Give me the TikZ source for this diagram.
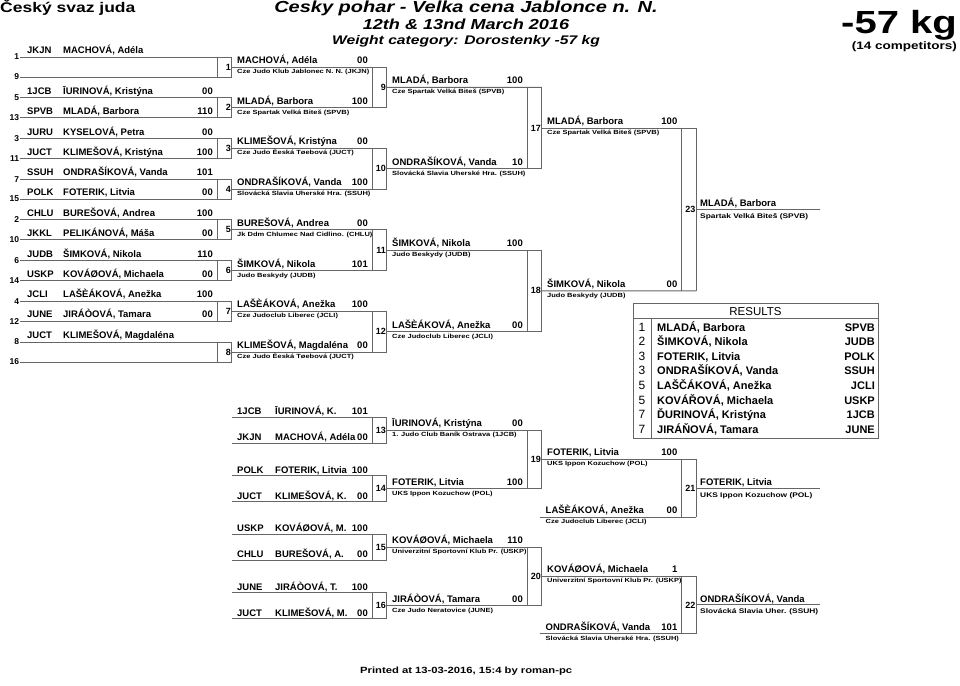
\documentclass[tikz,border=0pt]{standalone}
\usepackage{fontspec}
\setmainfont{Liberation Sans}
\newfontfamily\widefont[FakeStretch=1.25]{Liberation Sans}
\usetikzlibrary{calc}

\tikzset{
  bline/.style={draw=black!60, line width=0.8pt},
  tline/.style={draw=black!60, line width=0.8pt},
  pname/.style={font=\bfseries\fontsize{9.5}{11}\selectfont, inner sep=0pt},
  pclub/.style={font=\widefont\bfseries\fontsize{6}{7}\selectfont, inner sep=0pt},
  fclub/.style={font=\widefont\bfseries\fontsize{6.7}{8}\selectfont, inner sep=0pt},
  boutno/.style={font=\bfseries\fontsize{9}{10}\selectfont, inner sep=0.4pt},
  seedno/.style={font=\bfseries\fontsize{8.5}{10}\selectfont, inner sep=0.6pt},
  resrank/.style={font=\fontsize{12}{14}\selectfont, inner sep=0pt},
  resname/.style={font=\bfseries\fontsize{11}{13}\selectfont, inner sep=0pt},
}

% match box: id, x of left side, top, bottom
\newcommand{\matchbox}[4]{%
  \coordinate (m#1-tl) at (#2,#3);
  \coordinate (m#1-tr) at (#2+14.5,#3);
  \coordinate (m#1-bl) at (#2,#4);
  \coordinate (m#1-br) at (#2+14.5,#4);
  \coordinate (m#1-out) at (#2+14.5,{(#3+#4)/2});
  \draw[bline] (m#1-tl) -- (m#1-bl);
  \draw[bline] (m#1-tr) -- (m#1-br);
  \node[boutno, anchor=east] (n#1) at (m#1-out) {#1};
}
% first round lane: id, seed, y, code, name, score, box corner
\newcommand{\seedlane}[7]{%
  \coordinate (#1-a) at (20,#3);
  \draw[bline] (#1-a) -- (#7);
  \node[seedno, anchor=east] (#1-k) at (#1-a) {#2};
  \node[pname, anchor=base west] (#1-c) at ($(#1-a)+(7,-3.3)$) {#4};
  \node[pname, anchor=base west] (#1-n) at ($(#1-a)+(43,-3.3)$) {#5};
  \node[pname, anchor=base east] (#1-s) at ($(#7)+(-18.5,-3.3)$) {#6};
}
% repechage lane: id, y, code, name, score, box corner
\newcommand{\replane}[6]{%
  \coordinate (#1-a) at (232,#2);
  \draw[bline] (#1-a) -- (#6);
  \node[pname, anchor=base west] (#1-c) at ($(#1-a)+(5,-2.5)$) {#3};
  \node[pname, anchor=base west] (#1-n) at ($(#1-a)+(43,-2.5)$) {#4};
  \node[pname, anchor=base east] (#1-s) at ($(#6)+(-18.5,-2.5)$) {#5};
}
% winner lane: id, from, to, name, score, club
\newcommand{\winlane}[6]{%
  \draw[bline] (#2) -- (#3);
  \node[pname, anchor=base west] (#1-n) at ($(#2)+(5.5,-3.5)$) {#4};
  \node[pname, anchor=base east] (#1-s) at ($(#3)+(-18.5,-3.5)$) {#5};
  \node[pclub, anchor=base west] (#1-c) at ($(#2)+(5.5,6.5)$) {#6};
}
% last lane: id, from, name, club
\newcommand{\finallane}[4]{%
  \coordinate (#1-e) at ($(#2)+(124,0)$);
  \draw[bline] (#2) -- (#1-e);
  \node[pname, anchor=base west] (#1-n) at ($(#2)+(4,-2.5)$) {#3};
  \node[fclub, anchor=base west] (#1-c) at ($(#2)+(4,9)$) {#4};
}

\begin{document}
\begin{tikzpicture}[x=1pt,y=-1pt]
\useasboundingbox (0,0) rectangle (960,685);

% Headings
\node[inner sep=0pt, anchor=base west, font=\widefont\bfseries\fontsize{14}{16}\selectfont] (union) at (0,13) {Český svaz juda};
\node[inner sep=0pt, anchor=base, font=\widefont\bfseries\itshape\fontsize{16}{18}\selectfont] (event) at (466,12.7) {Cesky pohar - Velka cena Jablonce n. N.};
\node[inner sep=0pt, anchor=base, font=\widefont\bfseries\itshape\fontsize{14.5}{16}\selectfont] (dates) at (466,29.3) {12th \& 13nd March 2016};
\node[inner sep=0pt, anchor=base, font=\widefont\bfseries\itshape\fontsize{12.5}{14}\selectfont] (category) at (466,45) {Weight category: Dorostenky -57 kg};
\node[inner sep=0pt, anchor=base east, font=\widefont\bfseries\fontsize{32}{34}\selectfont] (weight) at (957,33.3) {-57 kg};
\node[inner sep=0pt, anchor=base east, font=\widefont\bfseries\fontsize{10.8}{12}\selectfont] (count) at (957,50) {(14 competitors)};

% Round 1 boxes
\matchbox{1}{217}{57}{77}
\matchbox{2}{217}{97.7}{117.7}
\matchbox{3}{217}{138.4}{158.4}
\matchbox{4}{217}{179.1}{199.1}
\matchbox{5}{217}{219.8}{239.8}
\matchbox{6}{217}{260.5}{280.5}
\matchbox{7}{217}{301.2}{321.2}
\matchbox{8}{217}{341.9}{361.9}

% Round 1 lanes
\seedlane{p1}{1}{57}{JKJN}{MACHOVÁ, Adéla}{}{m1-tr}
\seedlane{p9}{9}{77}{}{}{}{m1-br}
\seedlane{p5}{5}{97.7}{1JCB}{ĪURINOVÁ, Kristýna}{00}{m2-tr}
\seedlane{p13}{13}{117.7}{SPVB}{MLADÁ, Barbora}{110}{m2-br}
\seedlane{p3}{3}{138.4}{JURU}{KYSELOVÁ, Petra}{00}{m3-tr}
\seedlane{p11}{11}{158.4}{JUCT}{KLIMEŠOVÁ, Kristýna}{100}{m3-br}
\seedlane{p7}{7}{179.1}{SSUH}{ONDRAŠÍKOVÁ, Vanda}{101}{m4-tr}
\seedlane{p15}{15}{199.1}{POLK}{FOTERIK, Litvia}{00}{m4-br}
\seedlane{p2}{2}{219.8}{CHLU}{BUREŠOVÁ, Andrea}{100}{m5-tr}
\seedlane{p10}{10}{239.8}{JKKL}{PELIKÁNOVÁ, Máša}{00}{m5-br}
\seedlane{p6}{6}{260.5}{JUDB}{ŠIMKOVÁ, Nikola}{110}{m6-tr}
\seedlane{p14}{14}{280.5}{USKP}{KOVÁØOVÁ, Michaela}{00}{m6-br}
\seedlane{p4}{4}{301.2}{JCLI}{LAŠÈÁKOVÁ, Anežka}{100}{m7-tr}
\seedlane{p12}{12}{321.2}{JUNE}{JIRÁÒOVÁ, Tamara}{00}{m7-br}
\seedlane{p8}{8}{341.9}{JUCT}{KLIMEŠOVÁ, Magdaléna}{}{m8-tr}
\seedlane{p16}{16}{361.9}{}{}{}{m8-br}

% Round 2
\matchbox{9}{372}{67}{107.7}
\matchbox{10}{372}{148.4}{189.1}
\matchbox{11}{372}{229.8}{270.5}
\matchbox{12}{372}{311.2}{351.9}
\winlane{w1}{m1-out}{m9-tr}{MACHOVÁ, Adéla}{00}{Cze Judo Klub Jablonec N. N. (JKJN)}
\winlane{w2}{m2-out}{m9-br}{MLADÁ, Barbora}{100}{Cze Spartak Velká Biteš (SPVB)}
\winlane{w3}{m3-out}{m10-tr}{KLIMEŠOVÁ, Kristýna}{00}{Cze Judo Èeská Tøebová (JUCT)}
\winlane{w4}{m4-out}{m10-br}{ONDRAŠÍKOVÁ, Vanda}{100}{Slovácká Slavia Uherské Hra. (SSUH)}
\winlane{w5}{m5-out}{m11-tr}{BUREŠOVÁ, Andrea}{00}{Jk Ddm Chlumec Nad Cidlino. (CHLU)}
\winlane{w6}{m6-out}{m11-br}{ŠIMKOVÁ, Nikola}{101}{Judo Beskydy (JUDB)}
\winlane{w7}{m7-out}{m12-tr}{LAŠÈÁKOVÁ, Anežka}{100}{Cze Judoclub Liberec (JCLI)}
\winlane{w8}{m8-out}{m12-br}{KLIMEŠOVÁ, Magdaléna}{00}{Cze Judo Èeská Tøebová (JUCT)}

% Round 3
\matchbox{17}{527}{87.35}{168.75}
\matchbox{18}{527}{250.15}{331.55}
\winlane{w9}{m9-out}{m17-tr}{MLADÁ, Barbora}{100}{Cze Spartak Velká Biteš (SPVB)}
\winlane{w10}{m10-out}{m17-br}{ONDRAŠÍKOVÁ, Vanda}{10}{Slovácká Slavia Uherské Hra. (SSUH)}
\winlane{w11}{m11-out}{m18-tr}{ŠIMKOVÁ, Nikola}{100}{Judo Beskydy (JUDB)}
\winlane{w12}{m12-out}{m18-br}{LAŠÈÁKOVÁ, Anežka}{00}{Cze Judoclub Liberec (JCLI)}

% Final
\matchbox{23}{681.5}{128.05}{290.85}
\winlane{w17}{m17-out}{m23-tr}{MLADÁ, Barbora}{100}{Cze Spartak Velká Biteš (SPVB)}
\winlane{w18}{m18-out}{m23-br}{ŠIMKOVÁ, Nikola}{00}{Judo Beskydy (JUDB)}
\finallane{w23}{m23-out}{MLADÁ, Barbora}{Spartak Velká Biteš (SPVB)}

% Repechage, first round
\matchbox{13}{372}{417}{443}
\matchbox{14}{372}{475.5}{501.5}
\matchbox{15}{372}{534}{560}
\matchbox{16}{372}{592.5}{618.5}
\replane{r13a}{417}{1JCB}{ĪURINOVÁ, K.}{101}{m13-tr}
\replane{r13b}{443}{JKJN}{MACHOVÁ, Adéla}{00}{m13-br}
\replane{r14a}{475.5}{POLK}{FOTERIK, Litvia}{100}{m14-tr}
\replane{r14b}{501.5}{JUCT}{KLIMEŠOVÁ, K.}{00}{m14-br}
\replane{r15a}{534}{USKP}{KOVÁØOVÁ, M.}{100}{m15-tr}
\replane{r15b}{560}{CHLU}{BUREŠOVÁ, A.}{00}{m15-br}
\replane{r16a}{592.5}{JUNE}{JIRÁÒOVÁ, T.}{100}{m16-tr}
\replane{r16b}{618.5}{JUCT}{KLIMEŠOVÁ, M.}{00}{m16-br}

% Repechage, second round
\matchbox{19}{527}{430}{488.5}
\matchbox{20}{527}{547}{605.5}
\winlane{w13}{m13-out}{m19-tr}{ĪURINOVÁ, Kristýna}{00}{1. Judo Club Baník Ostrava (1JCB)}
\winlane{w14}{m14-out}{m19-br}{FOTERIK, Litvia}{100}{UKS Ippon Kozuchow (POL)}
\winlane{w15}{m15-out}{m20-tr}{KOVÁØOVÁ, Michaela}{110}{Univerzitní Sportovní Klub Pr. (USKP)}
\winlane{w16}{m16-out}{m20-br}{JIRÁÒOVÁ, Tamara}{00}{Cze Judo Neratovice (JUNE)}

% Bronze bouts
\matchbox{21}{681.5}{459.25}{517}
\matchbox{22}{681.5}{576.25}{633.5}
\coordinate (l18) at (540,517);
\coordinate (l17) at (540,633.5);
\winlane{w19}{m19-out}{m21-tr}{FOTERIK, Litvia}{100}{UKS Ippon Kozuchow (POL)}
\winlane{w18b}{l18}{m21-br}{LAŠÈÁKOVÁ, Anežka}{00}{Cze Judoclub Liberec (JCLI)}
\winlane{w20}{m20-out}{m22-tr}{KOVÁØOVÁ, Michaela}{1}{Univerzitní Sportovní Klub Pr. (USKP)}
\winlane{w17b}{l17}{m22-br}{ONDRAŠÍKOVÁ, Vanda}{101}{Slovácká Slavia Uherské Hra. (SSUH)}
\finallane{w21}{m21-out}{FOTERIK, Litvia}{UKS Ippon Kozuchow (POL)}
\finallane{w22}{m22-out}{ONDRAŠÍKOVÁ, Vanda}{Slovácká Slavia Uher. (SSUH)}

% Results table
\coordinate (res-nw) at (633,303);
\coordinate (res-se) at (878,438);
\coordinate (res-hl) at (633,318);
\coordinate (res-hr) at (878,318);
\coordinate (res-dt) at (651,318);
\coordinate (res-db) at (651,438);
\draw[tline] (res-nw) rectangle (res-se);
\draw[tline] (res-hl) -- (res-hr);
\draw[tline] (res-dt) -- (res-db);
\node[inner sep=0pt, anchor=base, font=\fontsize{11.5}{13}\selectfont] (res-title) at (755.5,315.5) {RESULTS};
\foreach \rk/\nm/\cd [count=\i from 0] in {1/{MLADÁ, Barbora}/SPVB, 2/{ŠIMKOVÁ, Nikola}/JUDB, 3/{FOTERIK, Litvia}/POLK, 3/{ONDRAŠÍKOVÁ, Vanda}/SSUH, 5/{LAŠČÁKOVÁ, Anežka}/JCLI, 5/{KOVÁŘOVÁ, Michaela}/USKP, 7/{ĎURINOVÁ, Kristýna}/1JCB, 7/{JIRÁŇOVÁ, Tamara}/JUNE}{
  \node[resrank, anchor=base] (rk\i) at (642,331+14.6*\i) {\rk};
  \node[resname, anchor=base west] (rn\i) at (657,331+14.6*\i) {\nm};
  \node[resname, anchor=base east] (rc\i) at (875,331+14.6*\i) {\cd};
}

% Footer
\node[inner sep=0pt, anchor=base west, font=\widefont\bfseries\fontsize{9}{11}\selectfont] (printed) at (360,673) {Printed at 13-03-2016, 15:4 by roman-pc};
\end{tikzpicture}
\end{document}
